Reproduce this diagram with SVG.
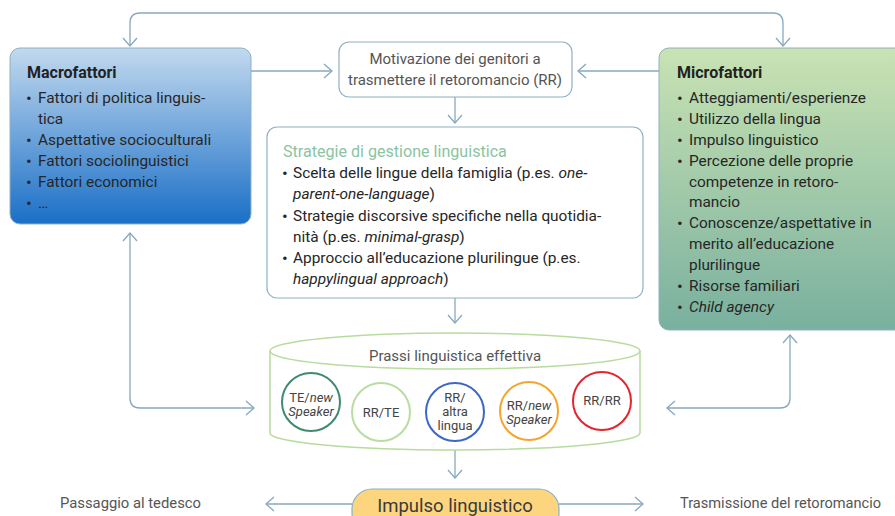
<svg xmlns="http://www.w3.org/2000/svg" width="895" height="516" viewBox="0 0 895 516">
<defs>
<linearGradient id="gMacro" x1="0" y1="0" x2="0" y2="1">
<stop offset="0" stop-color="#c2d9ee"/>
<stop offset="1" stop-color="#1a6fc7"/>
</linearGradient>
<linearGradient id="gMicro" x1="0" y1="0" x2="0" y2="1">
<stop offset="0" stop-color="#c9e3b3"/>
<stop offset="1" stop-color="#79b09f"/>
</linearGradient>
<marker id="arr" markerUnits="userSpaceOnUse" markerWidth="20" markerHeight="20" viewBox="-10 -10 20 20" refX="0" refY="0" orient="auto-start-reverse">
<path d="M-8,-7 L0,0 L-8,7" fill="none" stroke="#86a9bd" stroke-width="1.3"/>
</marker>
<style>
text{font-family:Roboto,"Liberation Sans",sans-serif;fill:#262626;}
.b{font-size:15.4px;}
.d{font-size:17px;}
.t{font-size:16px;font-weight:bold;fill:#222;}
.g{font-size:15px;fill:#555;}
.c{font-size:13px;fill:#444;text-anchor:middle;}
.i{font-style:italic;}
.con{fill:none;stroke:#86a9bd;stroke-width:1.3;}
.box{fill:#fff;stroke:#8fb0c2;stroke-width:1.2;}
</style>
</defs>

<g id="connectors">
<path class="con" d="M130,46 V23 Q130,13 140,13 H773 Q783,13 783,23 V46" marker-start="url(#arr)" marker-end="url(#arr)"/>
<path class="con" d="M251,71 H332" marker-end="url(#arr)"/>
<path class="con" d="M659,71 H578" marker-end="url(#arr)"/>
<path class="con" d="M455,97 V123" marker-end="url(#arr)"/>
<path class="con" d="M455,298 V323" marker-end="url(#arr)"/>
<path class="con" d="M130,233 V398 Q130,408 140,408 H254" marker-start="url(#arr)" marker-end="url(#arr)"/>
<path class="con" d="M790,335 V398 Q790,408 780,408 H667" marker-start="url(#arr)" marker-end="url(#arr)"/>
<path class="con" d="M455,450 V478" marker-end="url(#arr)"/>
<path class="con" d="M352,504 H266" marker-end="url(#arr)"/>
<path class="con" d="M559,504 H643" marker-end="url(#arr)"/>
</g>

<g id="macrofattori">
<rect x="10" y="48" width="241" height="176" rx="10" fill="url(#gMacro)" stroke="#8fb0c8" stroke-width="1"/>
<text class="t" x="27" y="78">Macrofattori</text>
<text class="d" x="26" y="104">•</text><text class="b" x="38" y="103">Fattori di politica linguis-</text>
<text class="b" x="38" y="124">tica</text>
<text class="d" x="26" y="146">•</text><text class="b" x="38" y="145">Aspettative socioculturali</text>
<text class="d" x="26" y="167">•</text><text class="b" x="38" y="166">Fattori sociolinguistici</text>
<text class="d" x="26" y="188">•</text><text class="b" x="38" y="187">Fattori economici</text>
<text class="d" x="26" y="209">•</text><text class="b" x="38" y="208">…</text>
</g>

<g id="motivazione">
<rect class="box" x="339" y="42" width="233" height="55" rx="10"/>
<text class="g" x="455" y="64" text-anchor="middle">Motivazione dei genitori a</text>
<text class="g" x="455" y="85" text-anchor="middle">trasmettere il retoromancio (RR)</text>
</g>

<g id="microfattori">
<rect x="659" y="48" width="250" height="282" rx="10" fill="url(#gMicro)" stroke="#8fb0c2" stroke-width="1"/>
<text class="t" x="677" y="78">Microfattori</text>
<text class="d" x="677" y="104">•</text><text class="b" x="689" y="103">Atteggiamenti/esperienze</text>
<text class="d" x="677" y="125">•</text><text class="b" x="689" y="124">Utilizzo della lingua</text>
<text class="d" x="677" y="146">•</text><text class="b" x="689" y="145">Impulso linguistico</text>
<text class="d" x="677" y="167">•</text><text class="b" x="689" y="166">Percezione delle proprie</text>
<text class="b" x="689" y="187">competenze in retoro-</text>
<text class="b" x="689" y="207">mancio</text>
<text class="d" x="677" y="229">•</text><text class="b" x="689" y="228">Conoscenze/aspettative in</text>
<text class="b" x="689" y="249">merito all’educazione</text>
<text class="b" x="689" y="270">plurilingue</text>
<text class="d" x="677" y="292">•</text><text class="b" x="689" y="291">Risorse familiari</text>
<text class="d" x="677" y="313">•</text><text class="b i" x="689" y="312">Child agency</text>
</g>

<g id="strategie">
<rect class="box" x="267" y="127" width="376" height="171" rx="10"/>
<text x="283" y="157" style="font-size:16.1px;fill:#8cc4a2">Strategie di gestione linguistica</text>
<text class="d" x="282" y="179">•</text><text class="b" x="293" y="178">Scelta delle lingue della famiglia (p.es. <tspan class="i">one-</tspan></text>
<text class="b" x="293" y="199"><tspan class="i">parent-one-language</tspan>)</text>
<text class="d" x="282" y="222">•</text><text class="b" x="293" y="221">Strategie discorsive specifiche nella quotidia-</text>
<text class="b" x="293" y="242">nità (p.es. <tspan class="i">minimal-grasp</tspan>)</text>
<text class="d" x="282" y="264">•</text><text class="b" x="293" y="263">Approccio all’educazione plurilingue (p.es.</text>
<text class="b" x="293" y="284"><tspan class="i">happylingual approach</tspan>)</text>
</g>

<g id="prassi">
<path d="M270,351 V433 A185,17 0 0 0 640,433 V351" fill="#fff" stroke="#b7dc9c" stroke-width="1.5"/>
<ellipse cx="455" cy="351" rx="185" ry="18" fill="#fff" stroke="#b7dc9c" stroke-width="1.5"/>
<text class="g" x="455" y="361" text-anchor="middle">Prassi linguistica effettiva</text>
</g>

<g id="te-new-speaker">
<circle cx="311" cy="402" r="29" fill="#fff" stroke="#3e8a6c" stroke-width="2"/>
<text class="c" x="311" y="402">TE/<tspan class="i">new</tspan></text>
<text class="c i" x="311" y="416">Speaker</text>
</g>
<g id="rr-te">
<circle cx="381" cy="412" r="29" fill="#fff" stroke="#b9dca0" stroke-width="2"/>
<text class="c" x="381" y="417">RR/TE</text>
</g>
<g id="rr-altra">
<circle cx="455" cy="412" r="29" fill="#fff" stroke="#3b68c4" stroke-width="2"/>
<text class="c" x="455" y="402">RR/</text>
<text class="c" x="455" y="416">altra</text>
<text class="c" x="455" y="430">lingua</text>
</g>
<g id="rr-new-speaker">
<circle cx="529" cy="411" r="29" fill="#fff" stroke="#f5a52a" stroke-width="2"/>
<text class="c" x="529" y="410">RR/<tspan class="i">new</tspan></text>
<text class="c i" x="529" y="424">Speaker</text>
</g>
<g id="rr-rr">
<circle cx="602" cy="401" r="29" fill="#fff" stroke="#e4252d" stroke-width="2"/>
<text class="c" x="602" y="405">RR/RR</text>
</g>

<g id="impulso">
<rect x="352" y="489" width="207" height="44" rx="20" fill="#fdd57f" stroke="#8fb0c2" stroke-width="1.2"/>
<text x="455" y="512" text-anchor="middle" style="font-size:18.5px;fill:#3a3a3a">Impulso linguistico</text>
</g>

<g id="passaggio">
<text class="g" x="60" y="508" style="font-size:14.8px">Passaggio al tedesco</text>
</g>
<g id="trasmissione">
<text class="g" x="680" y="508" style="font-size:14.6px">Trasmissione del retoromancio</text>
</g>
</svg>
